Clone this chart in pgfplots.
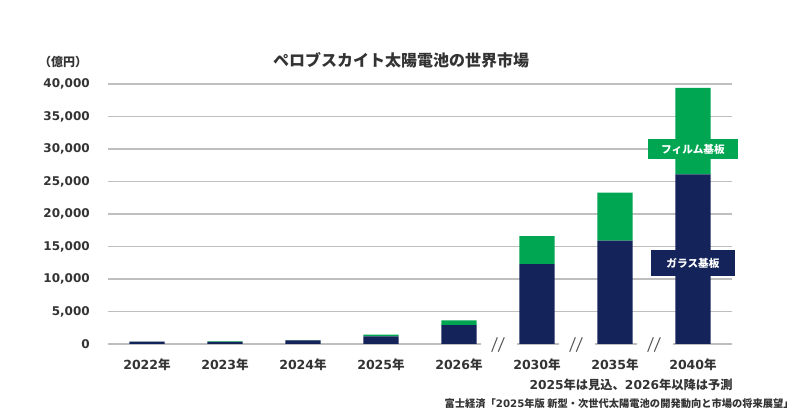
\documentclass[border=0pt]{standalone}
\usepackage{fontspec}
\setmainfont{Noto Sans CJK JP}
\newfontfamily\dv{DejaVu Sans}
\usepackage{pgfplots}
\pgfplotsset{compat=1.18}

\definecolor{glass}{HTML}{14245B}
\definecolor{film}{HTML}{00A651}
\definecolor{gridc}{HTML}{BFBFBF}
\definecolor{txt}{HTML}{333333}

\begin{document}
\begin{tikzpicture}[x=0.75pt,y=0.75pt]
\path[use as bounding box] (0,0) rectangle (800,420);

% titles and notes (pixel positions, y measured from the bottom)
\node[font=\bfseries\fontsize{12}{14}\selectfont, text=txt] at (401,360) {ペロブスカイト太陽電池の世界市場};
\node[font=\bfseries\fontsize{9}{11}\selectfont, text=txt] at (63,358) {（億円）};
\node[font=\bfseries\fontsize{9.2}{11}\selectfont, text=txt, anchor=east, inner sep=0pt] at (733,35) {{\dv 2025}年は見込、{\dv 2026}年以降は予測};
\node[font=\bfseries\fontsize{7.7}{9}\selectfont, text=txt, anchor=east, inner sep=0pt] at (794,16) {富士経済「{\dv 2025}年版 新型・次世代太陽電池の開発動向と市場の将来展望」};

\begin{axis}[
    at={(81pt,57pt)}, anchor=south west,
    scale only axis,
    width=468pt, height=195pt,
    xmin=-0.5, xmax=7.5,
    ymin=0, ymax=40000,
    axis line style={draw=none},
    ybar stacked,
    bar width=0.45,
    ymajorgrids,
    grid style={gridc, line width=1.1pt},
    major tick length=0pt,
    ytick={0,5000,...,40000},
    scaled y ticks=false,
    yticklabel style={/pgf/number format/.cd, 1000 sep={,}, /tikz/.cd,
        font=\dv\bfseries\fontsize{9}{11}\selectfont, text=txt,
        inner sep=0pt, xshift=-13.5pt},
    /pgf/number format/assume math mode=true,
    xtick={0,...,7},
    xticklabels={{\dv 2022}年,{\dv 2023}年,{\dv 2024}年,{\dv 2025}年,{\dv 2026}年,{\dv 2030}年,{\dv 2035}年,{\dv 2040}年},
    xticklabel style={font=\bfseries\fontsize{9.4}{11}\selectfont, text=txt,
        anchor=center, inner sep=0pt, yshift=-15.75pt},
  ]
  % ガラス基板
  \addplot[fill=glass, draw=none] coordinates {
    (0, 350) (1, 330) (2, 560) (3, 1180) (4, 2900) (5, 12300) (6, 15900) (7, 26100)
  };
  % フィルム基板
  \addplot[fill=film, draw=none] coordinates {
    (0, 10) (1, 70) (2, 40) (3, 270) (4, 750) (5, 4300) (6, 7400) (7, 13300)
  };

  \coordinate (b1) at (axis cs:4.5,0);
  \coordinate (b2) at (axis cs:5.5,0);
  \coordinate (b3) at (axis cs:6.5,0);
  \coordinate (lf) at (axis cs:7,30000);
  \coordinate (lg) at (axis cs:7,12450);
\end{axis}

% breaks in the baseline and // marks
\foreach \b in {b1,b2,b3} {
  \draw[white, line width=3pt] ([xshift=-12.8pt]\b) -- ([xshift=14pt]\b);
  \draw[txt!80, line width=0.8pt] ([xshift=-4.7pt,yshift=-5.8pt]\b) -- ([xshift=-0.5pt,yshift=5pt]\b);
  \draw[txt!80, line width=0.8pt] ([xshift=0.2pt,yshift=-5.8pt]\b) -- ([xshift=4.7pt,yshift=5pt]\b);
}

% series labels
\node[fill=film, text=white, font=\bfseries\fontsize{8}{9}\selectfont,
      minimum width=68pt, minimum height=15.5pt, inner sep=0pt] at (lf) {フィルム基板};
\node[fill=glass, text=white, font=\bfseries\fontsize{8}{9}\selectfont,
      minimum width=62.5pt, minimum height=19pt, inner sep=0pt] at (lg) {ガラス基板};
\end{tikzpicture}
\end{document}
